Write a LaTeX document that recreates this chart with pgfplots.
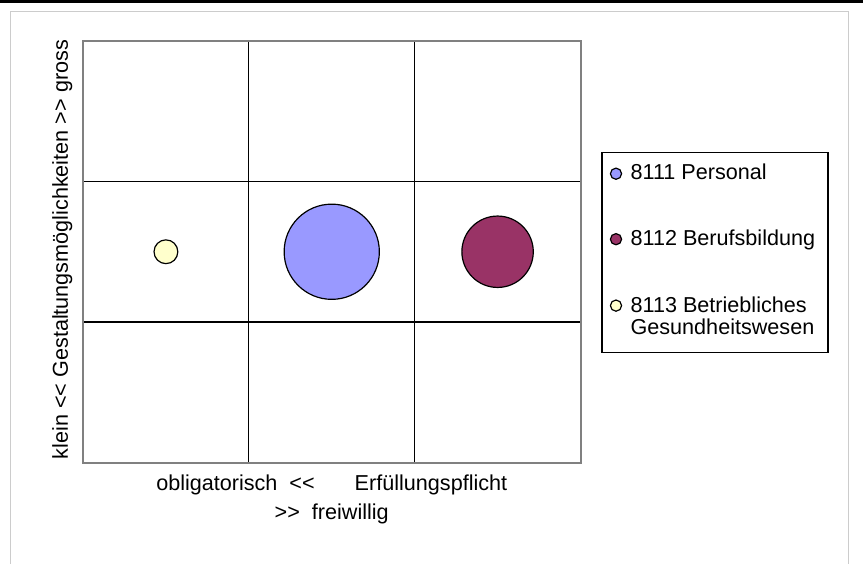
\documentclass[border=0pt]{standalone}
\usepackage{fontspec}
\setmainfont{Liberation Sans}
\usepackage{pgfplots}
\pgfplotsset{compat=1.18}
\definecolor{persblue}{RGB}{153,153,255}
\definecolor{berufred}{RGB}{153,51,102}
\definecolor{gesyel}{RGB}{255,255,204}
\definecolor{framegray}{RGB}{128,128,128}
\definecolor{pagegray}{RGB}{204,204,204}

\begin{document}
\fontsize{10.8}{12.5}\selectfont
\begin{tikzpicture}[x=1pt,y=1pt, font=\fontsize{10.8}{12.5}\selectfont]
\useasboundingbox (0,0) rectangle (431.5,281.5);
\fill[white] (0,0) rectangle (431.5,281.5);
\fill[black] (0,279.8) rectangle (431.5,281.5);
\draw[pagegray, line width=0.5pt] (5,-2) -- (5,275.85) -- (424,275.85) -- (424,-2);
\begin{axis}[
  at={(41.5pt,50.25pt)}, anchor=south west,
  scale only axis, width=248.75pt, height=210.75pt,
  xmin=0, xmax=3, ymin=0, ymax=3,
  xtick={1,2}, ytick={1,2}, xticklabels={}, yticklabels={},
  major tick length=0pt,
  grid=major, major grid style={black, line width=0.6pt},
  axis line style={framegray, line width=1pt},
  xlabel={obligatorisch\ \ <\kern0pt<\hspace{20pt}Erfüllungspflicht\\>\kern0pt>\ \ freiwillig},
  xlabel style={at={(axis description cs:0.5,0)}, anchor=north, align=center,
    yshift=-2.5pt, font=\fontsize{10.8}{14.5}\selectfont},
  ylabel={klein <\kern0pt< Gestaltungsmöglichkeiten >\kern0pt> gross},
  ylabel style={at={(axis description cs:-0.006,0.505)}, rotate=0, anchor=south},
  legend cell align=left,
  legend style={at={(1.0593,0.718)}, anchor=north west, draw=none, fill=none,
    inner sep=0pt, row sep=19.3pt, column sep=2.5pt, nodes={inner sep=2pt}},
  legend image code/.code={\draw[#1, mark size=2.8pt] plot coordinates {(0pt,0pt)};},
]
\addplot[only marks, mark=*, mark size=23.8pt,
  mark options={fill=persblue, draw=black, line width=0.6pt}] coordinates {(1.5,1.5)};
\addlegendentry{8111 Personal}
\addplot[only marks, mark=*, mark size=17.85pt,
  mark options={fill=berufred, draw=black, line width=0.6pt}] coordinates {(2.5,1.5)};
\addlegendentry{8112 Berufsbildung}
\addplot[only marks, mark=*, mark size=5.95pt,
  mark options={fill=gesyel, draw=black, line width=0.6pt}] coordinates {(0.5,1.5)};
\addlegendentry{\begin{tabular}[t]{@{}l@{}}8113 Betriebliches\\[-1.75pt]Gesundheitswesen\end{tabular}}
\end{axis}
\draw[black, line width=0.75pt] (301,105.35) rectangle (414,205.15);
\end{tikzpicture}
\end{document}
